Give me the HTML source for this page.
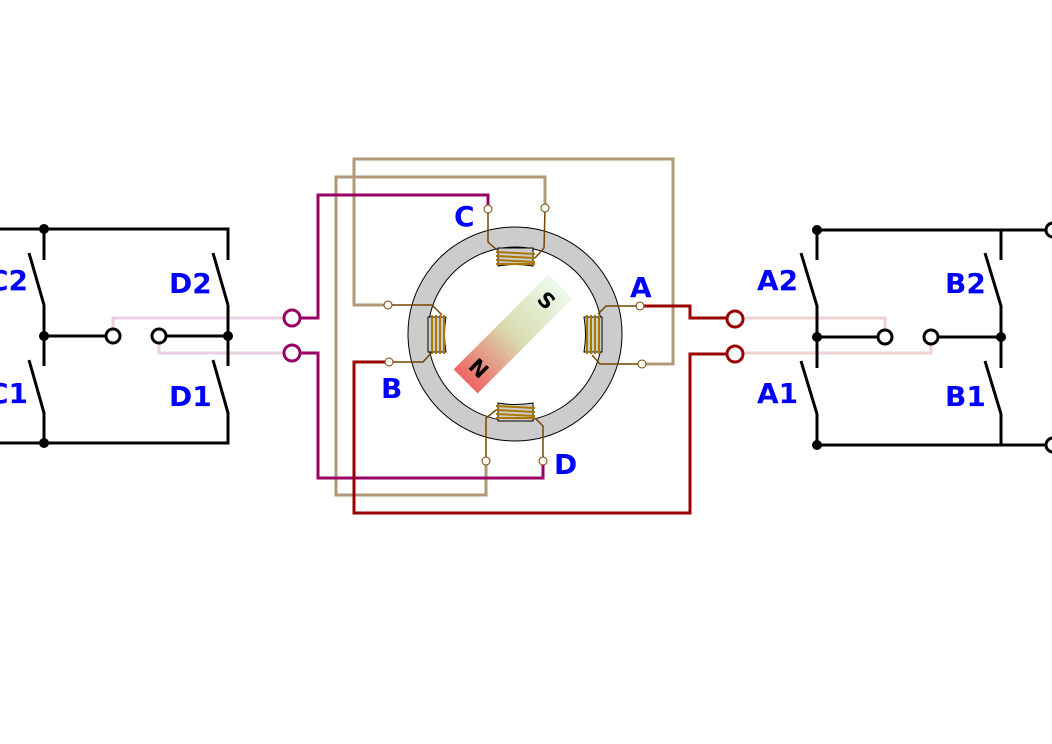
<!DOCTYPE html>
<html><head><style>html,body{margin:0;padding:0;background:#fff}svg{display:block}</style></head><body>
<svg width="1052" height="744" xmlns="http://www.w3.org/2000/svg" font-family="DejaVu Sans, Liberation Sans, sans-serif">
<defs>
<linearGradient id="mg" x1="0" y1="0" x2="1" y2="0">
<stop offset="0" stop-color="#f06464"/><stop offset="0.5" stop-color="#d8dcb0"/><stop offset="1" stop-color="#ecfaec"/>
</linearGradient>
</defs>
<g fill="none" stroke-width="3">
<path d="M113,329 V318 H284" stroke="#ecd0e2"/>
<path d="M159,343 V353 H284" stroke="#ecd0e2"/>
<path d="M743,318 H885 V330" stroke="#ecd2d2"/>
<path d="M743,353 H931 V344" stroke="#ecd2d2"/>
</g>
<g fill="none" stroke="#b09878" stroke-width="3">
<path d="M388,305 H354 V159 H673 V364 H642"/>
<path d="M545,208 V177 H336 V495 H486 V461"/>
</g>
<g fill="none" stroke="#990066" stroke-width="3">
<path d="M300,318 H318 V195 H488 V209"/>
<path d="M300,353 H318 V478 H543 V461"/>
</g>
<g fill="none" stroke="#990000" stroke-width="3">
<path d="M389,362 H354 V513 H690 V354 H727"/>
<path d="M640,306 H690 V318 H727"/>
</g>
<g fill="#fff" stroke-width="3">
<circle cx="292" cy="318" r="8" stroke="#990066"/>
<circle cx="292" cy="353" r="8" stroke="#990066"/>
<circle cx="735" cy="319" r="8" stroke="#990000"/>
<circle cx="735" cy="354" r="8" stroke="#990000"/>
</g>
<path d="M515,227 a107,107 0 1,0 0.01,0 Z M515,247 a87,87 0 1,1 -0.01,0 Z" fill="#cccccc" stroke="#000" stroke-width="1" fill-rule="evenodd"/>
<g fill="#cccccc" stroke="#000" stroke-width="1">
<path d="M498,248 H533 V266 Q515,263 498,266 Z"/>
<path d="M498,421 H533 V403 Q515,406 498,403 Z"/>
<path d="M428,317 V352 H446 Q443,334 446,317 Z"/>
<path d="M602,317 V352 H584 Q587,334 584,317 Z"/>
</g>
<g stroke="#aa7700" stroke-width="2">
<path d="M496,252 L535,254 M496,256 L535,258 M496,260 L535,262 M496,264 L535,264"/>
<path d="M496,406 L535,408 M496,410 L535,412 M496,414 L535,416 M496,418 L535,418"/>
<path d="M432,315 V354 M436,315 V354 M440,315 V354 M444,315 V354"/>
<path d="M587,315 V354 M591,315 V354 M595,315 V354 M599,315 V354"/>
</g>
<g fill="none" stroke="#774400" stroke-width="1.5">
<path d="M488,209 V242 L497,250"/><path d="M545,208 L544,248 L535,258"/>
<path d="M388,305 H432 L442,315"/><path d="M389,362 H423 L432,352"/>
<path d="M640,306 H606 L598,314"/><path d="M642,364 H600 L592,355"/>
<path d="M486,461 V418 L496,410"/><path d="M543,461 V426 L535,418"/>
</g>
<g fill="#fff" stroke="#774400" stroke-width="1">
<circle cx="488" cy="209" r="4"/><circle cx="545" cy="208" r="4"/>
<circle cx="388" cy="305" r="4"/><circle cx="389" cy="362" r="4"/>
<circle cx="640" cy="306" r="4"/><circle cx="642" cy="364" r="4"/>
<circle cx="486" cy="461" r="4"/><circle cx="543" cy="461" r="4"/>
</g>
<g transform="translate(513,334) rotate(-45)">
<rect x="-67" y="-17" width="134" height="34" fill="url(#mg)"/>
<text x="-48" y="8" font-size="21" font-weight="bold" text-anchor="middle" transform="rotate(90,-48,0)">N</text>
<text x="48" y="8" font-size="21" font-weight="bold" text-anchor="middle" transform="rotate(90,48,0)">S</text>
</g>
<g fill="none" stroke="#000" stroke-width="3">
<path d="M0,229 H228 V260"/>
<path d="M44,229 V260 M29,253 L44,305 V366 M29,360 L44,413 V443"/>
<path d="M228,305 V366 M213,253 L228,305 M213,360 L228,413 V443 H0"/>
<path d="M44,336 H106 M166,336 H228"/>
<circle cx="113" cy="336" r="7" fill="#fff"/><circle cx="159" cy="336" r="7" fill="#fff"/>
</g>
<g fill="#000"><circle cx="44" cy="229" r="5"/><circle cx="44" cy="336" r="5"/><circle cx="228" cy="336" r="5"/><circle cx="44" cy="443" r="5"/></g>
<g fill="none" stroke="#000" stroke-width="3">
<path d="M817,230 H1045 M1001,230 V260"/>
<path d="M817,230 V260 M801,253 L817,306 V368 M801,361 L817,414 V445 H1045"/>
<path d="M985,253 L1001,306 V368 M985,361 L1001,414 V445"/>
<path d="M817,337 H878 M938,337 H1001"/>
<circle cx="885" cy="337" r="7" fill="#fff"/><circle cx="931" cy="337" r="7" fill="#fff"/>
<circle cx="1053" cy="230" r="7" fill="#fff"/><circle cx="1053" cy="445" r="7" fill="#fff"/>
</g>
<g fill="#000"><circle cx="817" cy="230" r="5"/><circle cx="817" cy="337" r="5"/><circle cx="1001" cy="337" r="5"/><circle cx="817" cy="445" r="5"/></g>
<g fill="#0000ff" font-size="28" font-weight="bold">
<text x="-12" y="290">C2</text><text x="169" y="293">D2</text>
<text x="-12" y="403">C1</text><text x="169" y="406">D1</text>
<text x="757" y="290">A2</text><text x="945" y="293">B2</text>
<text x="757" y="403">A1</text><text x="945" y="406">B1</text>
<text x="454" y="226">C</text><text x="630" y="297">A</text>
<text x="381" y="398">B</text><text x="554" y="474">D</text>
</g>
</svg>
</body></html>
